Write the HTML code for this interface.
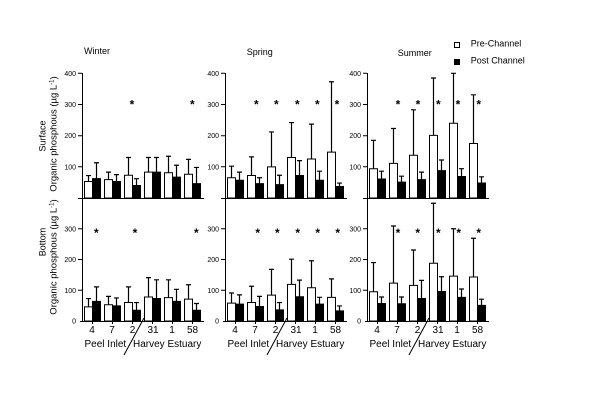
<!DOCTYPE html>
<html><head><meta charset="utf-8"><style>
html,body{margin:0;padding:0;background:#fff}
svg{display:block}
text{font-family:"Liberation Sans",Arial,sans-serif;fill:#000}
.w{fill:#fff;stroke:#000;stroke-width:1;vector-effect:non-scaling-stroke}
.b{fill:#000;stroke:#000;stroke-width:1;vector-effect:non-scaling-stroke}
.e{fill:none;stroke:#000;stroke-width:1.2;vector-effect:non-scaling-stroke}
.a{fill:none;stroke:#000;stroke-width:1}
.yl{font-size:7px;text-anchor:end}
.xl{font-size:10px;text-anchor:middle}
.gl{font-size:10px}
.st{font-size:12px;font-weight:bold;text-anchor:middle}
</style></head><body>
<svg width="600" height="400" viewBox="0 0 600 400" xmlns="http://www.w3.org/2000/svg">

<!-- titles -->
<text x="84" y="54" font-size="9">Winter</text>
<text x="246.7" y="55" font-size="9">Spring</text>
<text x="397.7" y="56" font-size="9">Summer</text>

<!-- legend -->
<rect x="454.5" y="42.5" width="5" height="5" fill="#fff" stroke="#000" stroke-width="1"/>
<text x="470.7" y="46.7" font-size="9">Pre-Channel</text>
<rect x="454" y="59" width="6" height="6" fill="#000"/>
<text x="470.7" y="63.3" font-size="9">Post Channel</text>

<!-- y-axis titles -->
<text transform="translate(45.5,136) rotate(-90)" font-size="9" text-anchor="middle">Surface</text>
<text transform="translate(56.5,134) rotate(-90)" font-size="9.5" text-anchor="middle">Organic phosphous (µg L<tspan font-size="6" dy="-3">-1</tspan><tspan dy="3">)</tspan></text>
<text transform="translate(45.5,242) rotate(-90)" font-size="9" text-anchor="middle">Bottom</text>
<text transform="translate(56.5,257) rotate(-90)" font-size="9.5" text-anchor="middle">Organic phosphous (µg L<tspan font-size="6" dy="-3">-1</tspan><tspan dy="3">)</tspan></text>

<!-- axes for each season -->
<g transform="translate(82,0)">
<path class="a" d="M0.5 73V321.5M-2 198.5H122M-2 321.5H122M-4 73.3H0M-4 104.5H0M-4 135.7H0M-4 166.8H0M-4 198.5H0M-4 228.75H0M-4 259.5H0M-4 290.25H0M10.5 321V324M30.5 321V324M50.5 321V324M70.5 321V324M90.5 321V324M110.5 321V324M62 318L42 355"/>
<text class="yl" x="-6" y="75.8">400</text><text class="yl" x="-6" y="107">300</text><text class="yl" x="-6" y="138.2">200</text><text class="yl" x="-6" y="169.3">100</text>
<text class="yl" x="-6" y="231.25">300</text><text class="yl" x="-6" y="262">200</text><text class="yl" x="-6" y="292.75">100</text><text class="yl" x="-6" y="323.5">0</text>
<text class="xl" x="10" y="333">4</text><text class="xl" x="30" y="333">7</text><text class="xl" x="50.5" y="333">2</text><text class="xl" x="71" y="333">31</text><text class="xl" x="90" y="333">1</text><text class="xl" x="110.5" y="333">58</text>
<text class="gl" x="2.5" y="347">Peel Inlet</text><text class="gl" x="51" y="347">Harvey Estuary</text>
</g>
<g transform="translate(225,0)">
<path class="a" d="M0.5 73V321.5M-2 198.5H122M-2 321.5H122M-4 73.3H0M-4 104.5H0M-4 135.7H0M-4 166.8H0M-4 198.5H0M-4 228.75H0M-4 259.5H0M-4 290.25H0M10.5 321V324M30.5 321V324M50.5 321V324M70.5 321V324M90.5 321V324M110.5 321V324M62 318L42 355"/>
<text class="yl" x="-6" y="75.8">400</text><text class="yl" x="-6" y="107">300</text><text class="yl" x="-6" y="138.2">200</text><text class="yl" x="-6" y="169.3">100</text>
<text class="yl" x="-6" y="231.25">300</text><text class="yl" x="-6" y="262">200</text><text class="yl" x="-6" y="292.75">100</text><text class="yl" x="-6" y="323.5">0</text>
<text class="xl" x="10" y="333">4</text><text class="xl" x="30" y="333">7</text><text class="xl" x="50.5" y="333">2</text><text class="xl" x="71" y="333">31</text><text class="xl" x="90" y="333">1</text><text class="xl" x="110.5" y="333">58</text>
<text class="gl" x="2.5" y="347">Peel Inlet</text><text class="gl" x="51" y="347">Harvey Estuary</text>
</g>
<g transform="translate(367,0)">
<path class="a" d="M0.5 73V321.5M-2 198.5H122M-2 321.5H122M-4 73.3H0M-4 104.5H0M-4 135.7H0M-4 166.8H0M-4 198.5H0M-4 228.75H0M-4 259.5H0M-4 290.25H0M10.5 321V324M30.5 321V324M50.5 321V324M70.5 321V324M90.5 321V324M110.5 321V324M62 318L42 355"/>
<text class="yl" x="-6" y="75.8">400</text><text class="yl" x="-6" y="107">300</text><text class="yl" x="-6" y="138.2">200</text><text class="yl" x="-6" y="169.3">100</text>
<text class="yl" x="-6" y="231.25">300</text><text class="yl" x="-6" y="262">200</text><text class="yl" x="-6" y="292.75">100</text><text class="yl" x="-6" y="323.5">0</text>
<text class="xl" x="10" y="333">4</text><text class="xl" x="30" y="333">7</text><text class="xl" x="50.5" y="333">2</text><text class="xl" x="71" y="333">31</text><text class="xl" x="90" y="333">1</text><text class="xl" x="110.5" y="333">58</text>
<text class="gl" x="2.5" y="347">Peel Inlet</text><text class="gl" x="51" y="347">Harvey Estuary</text>
</g>

<!-- Winter surface -->
<g transform="translate(82,198) scale(1,-0.3117)">
<path class="e" d="M6.5 53V72M4 72H9M14.5 62V113M12 113H17M26.5 59V83M24 83H29M34.5 53V75M32 75H37M46.5 73V130M44 130H49M54.5 40V62M52 62H57M66.5 83V130M64 130H69M74.5 83V130M72 130H77M86.5 81V134M84 134H89M94.5 67V105M92 105H97M106.5 76V124M104 124H109M114.5 46V98M112 98H117"/>
<rect class="w" x="2.5" width="8" height="53"/><rect class="b" x="10.5" width="8" height="62"/>
<rect class="w" x="22.5" width="8" height="59"/><rect class="b" x="30.5" width="8" height="53"/>
<rect class="w" x="42.5" width="8" height="73"/><rect class="b" x="50.5" width="8" height="40"/>
<rect class="w" x="62.5" width="8" height="83"/><rect class="b" x="70.5" width="8" height="83"/>
<rect class="w" x="82.5" width="8" height="81"/><rect class="b" x="90.5" width="8" height="67"/>
<rect class="w" x="102.5" width="8" height="76"/><rect class="b" x="110.5" width="8" height="46"/>
</g>

<!-- Spring surface -->
<g transform="translate(225,198) scale(1,-0.3117)">
<path class="e" d="M6.5 65V102M4 102H9M14.5 57V83M12 83H17M26.5 72V132M24 132H29M34.5 46V65M32 65H37M46.5 100V212M44 212H49M54.5 43V73M52 73H57M66.5 130V242M64 242H69M74.5 72V120M72 120H77M86.5 125V237M84 237H89M94.5 57V86M92 86H97M106.5 147V373M104 373H109M114.5 37V48M112 48H117"/>
<rect class="w" x="2.5" width="8" height="65"/><rect class="b" x="10.5" width="8" height="57"/>
<rect class="w" x="22.5" width="8" height="72"/><rect class="b" x="30.5" width="8" height="46"/>
<rect class="w" x="42.5" width="8" height="100"/><rect class="b" x="50.5" width="8" height="43"/>
<rect class="w" x="62.5" width="8" height="130"/><rect class="b" x="70.5" width="8" height="72"/>
<rect class="w" x="82.5" width="8" height="125"/><rect class="b" x="90.5" width="8" height="57"/>
<rect class="w" x="102.5" width="8" height="147"/><rect class="b" x="110.5" width="8" height="37"/>
</g>

<!-- Summer surface -->
<g transform="translate(367,198) scale(1,-0.3117)">
<path class="e" d="M6.5 94V185M4 185H9M14.5 61V86M12 86H17M26.5 111V223M24 223H29M34.5 51V70M32 70H37M46.5 137V283M44 283H49M54.5 59V83M52 83H57M66.5 201V385M64 385H69M74.5 88V122M72 122H77M86.5 240V400M84 400H89M94.5 69V94M92 94H97M106.5 175V331M104 331H109M114.5 48V68M112 68H117"/>
<rect class="w" x="2.5" width="8" height="94"/><rect class="b" x="10.5" width="8" height="61"/>
<rect class="w" x="22.5" width="8" height="111"/><rect class="b" x="30.5" width="8" height="51"/>
<rect class="w" x="42.5" width="8" height="137"/><rect class="b" x="50.5" width="8" height="59"/>
<rect class="w" x="62.5" width="8" height="201"/><rect class="b" x="70.5" width="8" height="88"/>
<rect class="w" x="82.5" width="8" height="240"/><rect class="b" x="90.5" width="8" height="69"/>
<rect class="w" x="102.5" width="8" height="175"/><rect class="b" x="110.5" width="8" height="48"/>
</g>

<!-- Winter bottom -->
<g transform="translate(82,321) scale(1,-0.3075)">
<path class="e" d="M6.5 46V73M4 73H9M14.5 64V111M12 111H17M26.5 53V80M24 80H29M34.5 49V75M32 75H37M46.5 60V111M44 111H49M54.5 35V60M52 60H57M66.5 78V141M64 141H69M74.5 73V134M72 134H77M86.5 76V134M84 134H89M94.5 64V103M92 103H97M106.5 71V118M104 118H109M114.5 35V57M112 57H117"/>
<rect class="w" x="2.5" width="8" height="46"/><rect class="b" x="10.5" width="8" height="64"/>
<rect class="w" x="22.5" width="8" height="53"/><rect class="b" x="30.5" width="8" height="49"/>
<rect class="w" x="42.5" width="8" height="60"/><rect class="b" x="50.5" width="8" height="35"/>
<rect class="w" x="62.5" width="8" height="78"/><rect class="b" x="70.5" width="8" height="73"/>
<rect class="w" x="82.5" width="8" height="76"/><rect class="b" x="90.5" width="8" height="64"/>
<rect class="w" x="102.5" width="8" height="71"/><rect class="b" x="110.5" width="8" height="35"/>
</g>

<!-- Spring bottom -->
<g transform="translate(225,321) scale(1,-0.3075)">
<path class="e" d="M6.5 58V91M4 91H9M14.5 55V85M12 85H17M26.5 60V113M24 113H29M34.5 47V80M32 80H37M46.5 84V168M44 168H49M54.5 36V60M52 60H57M66.5 119V201M64 201H69M74.5 79V133M72 133H77M86.5 108V196M84 196H89M94.5 55V77M92 77H97M106.5 77V137M104 137H109M114.5 33V49M112 49H117"/>
<rect class="w" x="2.5" width="8" height="58"/><rect class="b" x="10.5" width="8" height="55"/>
<rect class="w" x="22.5" width="8" height="60"/><rect class="b" x="30.5" width="8" height="47"/>
<rect class="w" x="42.5" width="8" height="84"/><rect class="b" x="50.5" width="8" height="36"/>
<rect class="w" x="62.5" width="8" height="119"/><rect class="b" x="70.5" width="8" height="79"/>
<rect class="w" x="82.5" width="8" height="108"/><rect class="b" x="90.5" width="8" height="55"/>
<rect class="w" x="102.5" width="8" height="77"/><rect class="b" x="110.5" width="8" height="33"/>
</g>

<!-- Summer bottom -->
<g transform="translate(367,321) scale(1,-0.3075)">
<path class="e" d="M6.5 95V190M4 190H9M14.5 57V78M12 78H17M26.5 123V309M24 309H29M34.5 56V78M32 78H37M46.5 116V231M44 231H49M54.5 73V132M52 132H57M66.5 188V383M64 383H69M74.5 96V144M72 144H77M86.5 146V300M84 300H89M94.5 77V104M92 104H97M106.5 143V269M104 269H109M114.5 51V71M112 71H117"/>
<rect class="w" x="2.5" width="8" height="95"/><rect class="b" x="10.5" width="8" height="57"/>
<rect class="w" x="22.5" width="8" height="123"/><rect class="b" x="30.5" width="8" height="56"/>
<rect class="w" x="42.5" width="8" height="116"/><rect class="b" x="50.5" width="8" height="73"/>
<rect class="w" x="62.5" width="8" height="188"/><rect class="b" x="70.5" width="8" height="96"/>
<rect class="w" x="82.5" width="8" height="146"/><rect class="b" x="90.5" width="8" height="77"/>
<rect class="w" x="102.5" width="8" height="143"/><rect class="b" x="110.5" width="8" height="51"/>
</g>

<!-- significance asterisks -->
<text class="st" x="132" y="108.5">*</text><text class="st" x="192.3" y="108.5">*</text>
<text class="st" x="96.3" y="237">*</text><text class="st" x="135" y="237">*</text><text class="st" x="196.3" y="237">*</text>
<text class="st" x="256.3" y="108.5">*</text><text class="st" x="276.3" y="108.5">*</text><text class="st" x="297.3" y="108.5">*</text><text class="st" x="317.3" y="108.5">*</text><text class="st" x="337" y="108.5">*</text>
<text class="st" x="257.7" y="237">*</text><text class="st" x="277.3" y="237">*</text><text class="st" x="297.7" y="237">*</text><text class="st" x="317.7" y="237">*</text><text class="st" x="337.7" y="237">*</text>
<text class="st" x="398" y="108.5">*</text><text class="st" x="418" y="108.5">*</text><text class="st" x="438.3" y="108.5">*</text><text class="st" x="458" y="108.5">*</text><text class="st" x="478.7" y="108.5">*</text>
<text class="st" x="398" y="237">*</text><text class="st" x="417.7" y="237">*</text><text class="st" x="438.3" y="237">*</text><text class="st" x="458.7" y="237">*</text><text class="st" x="478.7" y="237">*</text>
</svg>
</body></html>
